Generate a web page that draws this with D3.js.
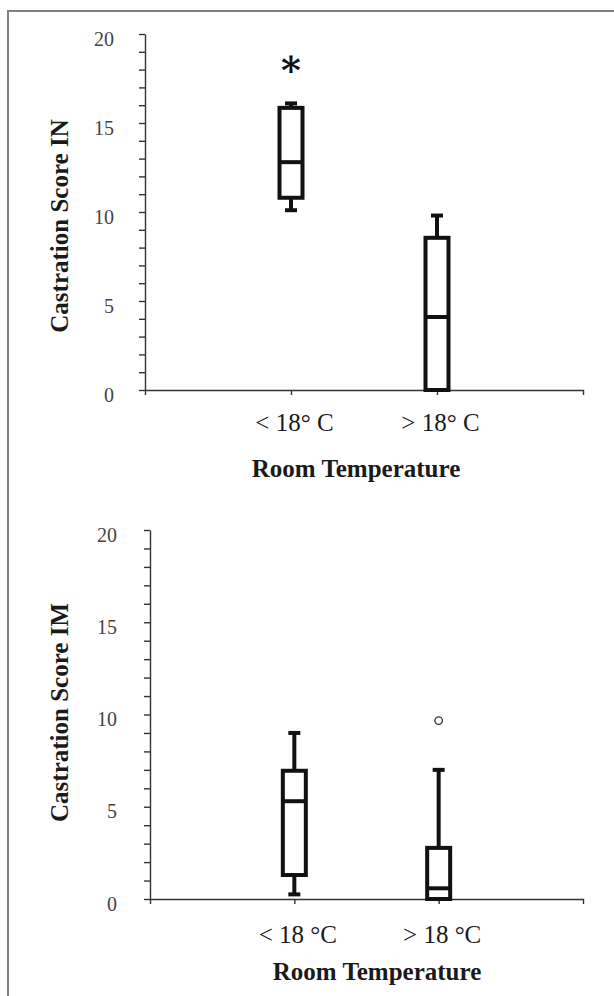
<!DOCTYPE html>
<html>
<head>
<meta charset="utf-8">
<script src="https://cdn.jsdelivr.net/npm/d3@7"></script>
<style>
  html, body { margin: 0; padding: 0; background: #fff; }
  svg { display: block; }
</style>
</head>
<body>
<svg id="chart" width="614" height="996"></svg>
<script>
// ---------- data ----------
const categoriesIN = ["< 18\u00B0 C", "> 18\u00B0 C"];
const categoriesIM = ["< 18 \u00B0C", "> 18 \u00B0C"];
const yTickValues = [0, 5, 10, 15, 20];

// Castration Score IN (top panel)
const minIN    = [10.1, 0];
const q1IN     = [10.8, 0];
const medianIN = [12.8, 4.1];
const q3IN     = [15.85, 8.55];
const maxIN    = [16.1, 9.8];
const markIN   = [{ index: 0, value: 18.3, label: "*" }];

// Castration Score IM (bottom panel)
const minIM    = [0.25, 0];
const q1IM     = [1.3, 0];
const medianIM = [5.3, 0.58];
const q3IM     = [6.95, 2.77];
const maxIM    = [9.0, 7.0];
const outliersIM = [{ index: 1, value: 9.67 }];

const yTitleIN = "Castration Score IN";
const yTitleIM = "Castration Score IM";
const xTitle = "Room Temperature";

// ---------- drawing ----------
const svg = d3.select("#chart");

// outer frame (left and top borders)
svg.append("line").attr("x1", 8).attr("y1", 11).attr("x2", 8).attr("y2", 996)
  .attr("stroke", "#808080").attr("stroke-width", 2);
svg.append("line").attr("x1", 7).attr("y1", 11).attr("x2", 614).attr("y2", 11)
  .attr("stroke", "#808080").attr("stroke-width", 2);

function panel(cfg) {
  const g = svg.append("g");
  const y = d3.scaleLinear().domain([0, 20]).range([cfg.y0, cfg.y20]);
  const x = d3.scalePoint().domain(cfg.cats).range([cfg.x0, cfg.x1]).padding(1);

  // y axis
  const yAxis = d3.axisLeft(y)
    .tickValues(d3.range(0, 21))
    .tickSize(6)
    .tickSizeOuter(0)
    .tickPadding(cfg.yPad)
    .tickFormat(d => yTickValues.includes(d) ? d : "");
  const gy = g.append("g").attr("transform", `translate(${cfg.x0},0)`).call(yAxis);
  gy.selectAll("path, line").attr("stroke", "#333").attr("stroke-width", 1.4);
  gy.selectAll("text")
    .attr("font-family", "'Liberation Serif', 'Times New Roman', serif")
    .attr("font-size", 20)
    .attr("fill", "#444")
    .attr("dy", "0.55em");

  // x axis
  const xAxis = d3.axisBottom(x).tickSize(5).tickSizeOuter(5).tickPadding(cfg.xPad);
  const gx = g.append("g").attr("transform", `translate(0,${cfg.y0})`).call(xAxis);
  gx.selectAll("path, line").attr("stroke", "#333").attr("stroke-width", 1.4);
  gx.selectAll("text")
    .attr("font-family", "'Liberation Serif', 'Times New Roman', serif")
    .attr("font-size", 25)
    .attr("fill", "#1a1a1a")
    .attr("dx", 3);

  // y title
  g.append("text")
    .attr("transform", `translate(${cfg.yTitleX},${(cfg.y0 + cfg.y20) / 2 + cfg.yTitleShift}) rotate(-90)`)
    .attr("text-anchor", "middle")
    .attr("font-family", "'Liberation Serif', 'Times New Roman', serif")
    .attr("font-weight", "bold")
    .attr("font-size", 25)
    .attr("fill", "#1a1a1a")
    .text(cfg.yTitle);

  // x title
  g.append("text")
    .attr("x", cfg.xTitleX).attr("y", cfg.xTitleY)
    .attr("text-anchor", "middle")
    .attr("font-family", "'Liberation Serif', 'Times New Roman', serif")
    .attr("font-weight", "bold")
    .attr("font-size", 25)
    .attr("fill", "#1a1a1a")
    .text(xTitle);

  // boxes
  const boxW = 23, capW = 12, sw = 4;
  const rows = cfg.cats.map((c, i) => ({
    cat: c, min: cfg.min[i], q1: cfg.q1[i], med: cfg.med[i], q3: cfg.q3[i], max: cfg.max[i]
  }));
  const bg = g.append("g").attr("stroke", "#111").attr("stroke-width", sw).attr("fill", "none");
  rows.forEach(r => {
    const cx = x(r.cat);
    // upper whisker
    if (r.max > r.q3) {
      bg.append("line").attr("x1", cx).attr("x2", cx).attr("y1", y(r.q3)).attr("y2", y(r.max));
      bg.append("line").attr("x1", cx - capW / 2).attr("x2", cx + capW / 2).attr("y1", y(r.max)).attr("y2", y(r.max));
    }
    // lower whisker
    if (r.min < r.q1) {
      bg.append("line").attr("x1", cx).attr("x2", cx).attr("y1", y(r.q1)).attr("y2", y(r.min));
      bg.append("line").attr("x1", cx - capW / 2).attr("x2", cx + capW / 2).attr("y1", y(r.min)).attr("y2", y(r.min));
    }
    // box
    bg.append("rect")
      .attr("x", cx - boxW / 2).attr("width", boxW)
      .attr("y", y(r.q3)).attr("height", y(r.q1) - y(r.q3))
      .attr("fill", "#fff");
    // median
    bg.append("line").attr("x1", cx - boxW / 2).attr("x2", cx + boxW / 2)
      .attr("y1", y(r.med)).attr("y2", y(r.med));
  });

  // outliers
  (cfg.outliers || []).forEach(o => {
    g.append("circle")
      .attr("cx", x(cfg.cats[o.index])).attr("cy", y(o.value)).attr("r", 3.8)
      .attr("fill", "#fff").attr("stroke", "#333").attr("stroke-width", 1.3);
  });

  // significance marks
  (cfg.marks || []).forEach(m => {
    g.append("text")
      .attr("x", x(cfg.cats[m.index])).attr("y", y(m.value))
      .attr("text-anchor", "middle")
      .attr("dy", "0.5em")
      .attr("font-family", "'DejaVu Serif', 'Liberation Serif', serif")
      .attr("font-weight", "bold")
      .attr("font-size", 38)
      .attr("fill", "#111")
      .text(m.label);
  });
}

panel({
  cats: categoriesIN, x0: 145, x1: 583, y0: 390, y20: 34,
  yPad: 25, xPad: 18,
  yTitle: yTitleIN, yTitleX: 68, yTitleShift: 14,
  xTitleX: 356, xTitleY: 477,
  min: minIN, q1: q1IN, med: medianIN, q3: q3IN, max: maxIN,
  marks: markIN
});

panel({
  cats: categoriesIM, x0: 150, x1: 583, y0: 899, y20: 530,
  yPad: 27, xPad: 21,
  yTitle: yTitleIM, yTitleX: 68, yTitleShift: -2,
  xTitleX: 377, xTitleY: 980,
  min: minIM, q1: q1IM, med: medianIM, q3: q3IM, max: maxIM,
  outliers: outliersIM
});
</script>
</body>
</html>
